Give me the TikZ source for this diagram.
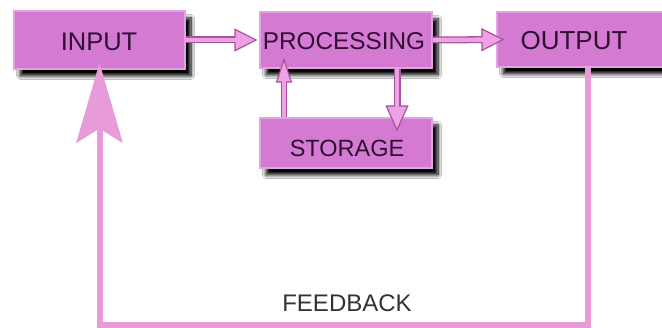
\documentclass[tikz,border=0pt]{standalone}
\usepackage{fontspec}
\setmainfont{Liberation Sans}
\usetikzlibrary{arrows.meta,calc,shadows.blur}
\definecolor{boxfill}{HTML}{D47AD3}
\definecolor{boxedge}{HTML}{E3A2E2}
\definecolor{boxtext}{HTML}{2E1030}
\definecolor{arrlight}{HTML}{EFA2E3}
\definecolor{arrdark}{HTML}{A2559C}
\definecolor{fbcol}{HTML}{E79BD9}
\definecolor{fbtext}{HTML}{333333}
\tikzset{
  box/.style={rectangle, fill=boxfill, draw=boxedge, line width=1.2pt,
    inner sep=0pt, text=boxtext,
    blur shadow={shadow xshift=6pt, shadow yshift=-7pt, shadow blur radius=3.5pt, shadow blur steps=10, shadow opacity=100}},
  arr/.style={line width=7pt, draw=arrdark,
    -{Triangle[length=#1, width=23pt, line width=1.2pt, fill=arrlight]},
    postaction={draw=arrlight, line width=4.4pt, -, shorten >=#1-3pt}},
  arr/.default=23pt,
  fb/.style={line width=6pt, draw=fbcol, -{Stealth[length=80pt, width=46pt, inset=14pt]}},
  lbl/.style={inner sep=0pt, text=boxtext}
}
\begin{document}
\begin{tikzpicture}[x=1pt,y=-1pt]
\useasboundingbox (0,0) rectangle (662,328);
\clip (0,0) rectangle (662,328);
\fill[white] (0,0) rectangle (662,328);
% boxes
\node[box, minimum width=171pt, minimum height=58pt] (in) at (99.5,40) {};
\node[lbl, font=\fontsize{25.5}{26}\selectfont] (inl) at (99,42) {INPUT};
\node[box, minimum width=172pt, minimum height=56pt] (proc) at (346,40) {};
\node[lbl, font=\fontsize{24.3}{26}\selectfont] (procl) at (344,41) {PROCESSING};
\node[box, minimum width=172pt, minimum height=50pt] (stor) at (346,143) {};
\node[lbl, font=\fontsize{23.5}{26}\selectfont] (storl) at (347,148) {STORAGE};
\node[box, minimum width=180pt, minimum height=55pt] (out) at (587,39.5) {};
\node[lbl, font=\fontsize{26}{26}\selectfont] (outl) at (574,41) {OUTPUT};
% connectors
\draw[arr] (in.east) -- ($(proc.west)+(-2,0)$);
\draw[arr] (proc.east) -- ($(out.west)+(8,0)$);
\draw[arr=26pt] ($(proc.south)+(51,0)$) -- ($(stor.north)+(51,14)$);
\draw[line width=6pt, draw=arrdark,
    -{Triangle[length=25pt, width=16pt, line width=1.2pt, fill=arrlight]},
    postaction={draw=arrlight, line width=3.6pt, -, shorten >=22pt}]
  ($(stor.north)+(-62,0)$) -- ($(proc.south)+(-62,-11)$);
% feedback
\draw[fb] ($(out.south)+(1,0)$) |- ($(in.south)+(0,255)$) -- ($(in.south)+(0,-7)$);
\node[inner sep=0pt, text=fbtext, font=\fontsize{24}{26}\selectfont] (fbl) at (347,303) {FEEDBACK};
\end{tikzpicture}
\end{document}
